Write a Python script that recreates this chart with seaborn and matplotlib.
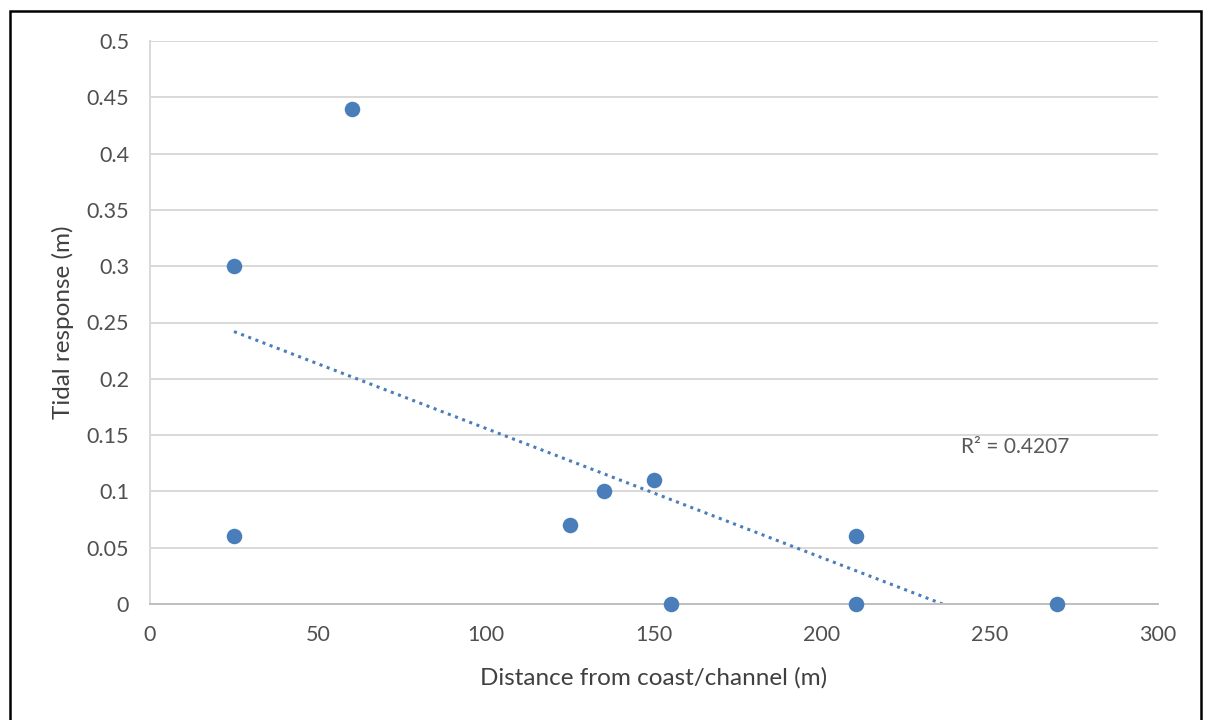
import numpy as np
import pandas as pd
import matplotlib
matplotlib.use("Agg")
import matplotlib.pyplot as plt
import seaborn as sns
from matplotlib.patches import Rectangle

distance = [25, 25, 60, 125, 135, 150, 155, 210, 210, 270]
tidal = [0.30, 0.06, 0.44, 0.07, 0.10, 0.11, 0.00, 0.06, 0.00, 0.00]
x_ticks = [0, 50, 100, 150, 200, 250, 300]
y_ticks = [0, 0.05, 0.1, 0.15, 0.2, 0.25, 0.3, 0.35, 0.4, 0.45, 0.5]
y_tick_labels = ["0", "0.05", "0.1", "0.15", "0.2", "0.25", "0.3", "0.35", "0.4", "0.45", "0.5"]

df = pd.DataFrame({"distance": distance, "tidal": tidal})

sns.set_theme(style="white")
plt.rcParams['font.family'] = ['Lato', 'DejaVu Sans']

fig = plt.figure(figsize=(12.08, 7.2), dpi=100)
ax = fig.add_axes([150/1208, 1-604/720, (1158-150)/1208, (604-41)/720])

blue = "#4A7EBB"
text_col = "#595959"
fs_tick = 15.5
fs_label = 17.5

ax.set_xlim(0, 300)
ax.set_ylim(0, 0.5)
ax.set_xticks(x_ticks)
ax.set_yticks(y_ticks)
ax.set_yticklabels(y_tick_labels)
ax.grid(axis="y", color="#D9D9D9", linewidth=1.4)
ax.set_axisbelow(True)

# trendline (linear fit)
slope, intercept = np.polyfit(df["distance"], df["tidal"], 1)
xs = np.array([min(distance), max(distance)])
pred = slope * df["distance"] + intercept
r2 = 1 - np.sum((df["tidal"] - pred) ** 2) / np.sum((df["tidal"] - df["tidal"].mean()) ** 2)
ax.plot(xs, slope * xs + intercept, linestyle=(0, (1, 1.5)), color=blue, linewidth=2.2, zorder=2)

sns.scatterplot(data=df, x="distance", y="tidal", ax=ax, color=blue, s=125,
                edgecolor=blue, linewidth=0, zorder=3, clip_on=False)

ax.text(241.5, 0.139, f"R² = {r2:.4f}", color=text_col, fontsize=15, va="center", ha="left")

for side in ["top", "right"]:
    ax.spines[side].set_visible(False)
ax.spines["left"].set_color("#D9D9D9")
ax.spines["left"].set_linewidth(1.4)
ax.spines["bottom"].set_color("#BFBFBF")
ax.spines["bottom"].set_linewidth(1.4)

ax.tick_params(axis="both", length=0, labelsize=fs_tick, colors="#505050")
ax.tick_params(axis="y", pad=15)
ax.tick_params(axis="x", pad=15)

ax.set_xlabel("Distance from coast/channel (m)", fontsize=fs_label, color="#404040", labelpad=16)
ax.set_ylabel("Tidal response (m)", fontsize=fs_label, color="#404040", labelpad=9)

fig.patches.append(Rectangle((10/1208, -0.01), (1201-10)/1208, 1 - 11/720 + 0.01,
                             transform=fig.transFigure, fill=False,
                             edgecolor="black", linewidth=1.8, zorder=10))

fig.savefig("out.png", dpi=100)
